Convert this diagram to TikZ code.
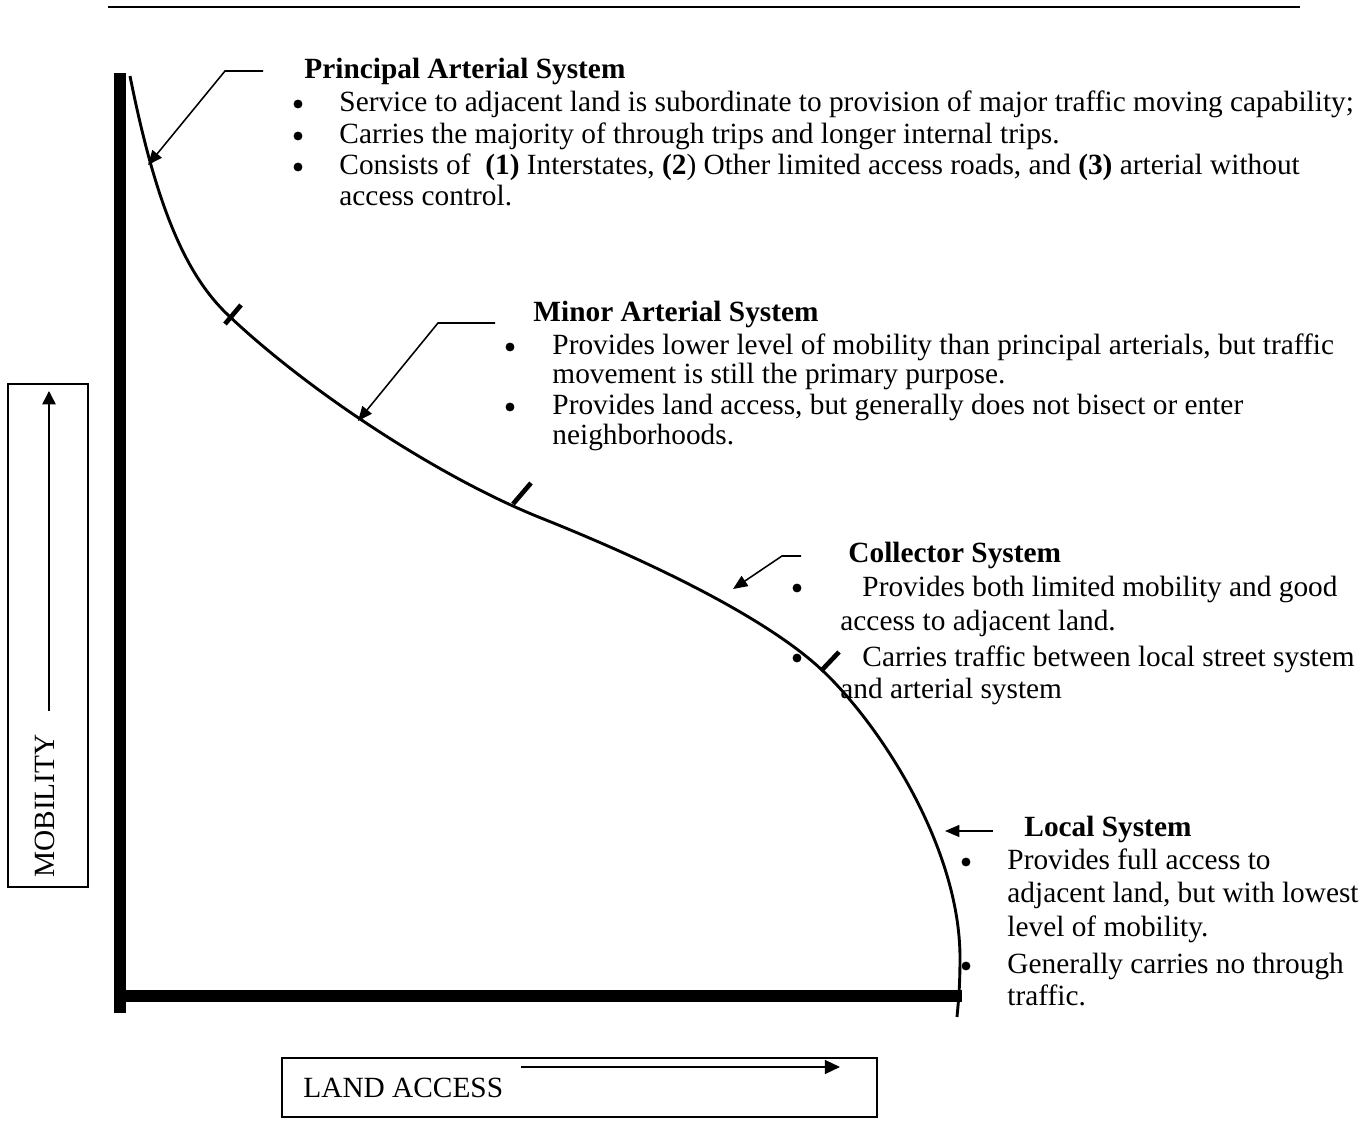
\documentclass[tikz,border=0pt]{standalone}
\usepackage{fontspec}
\setmainfont{Liberation Serif}
\usetikzlibrary{arrows.meta}

\tikzset{
  txt/.style={anchor=base west},
  bul/.style={circle,fill,minimum size=4pt},
  axis/.style={line width=5.4pt},
  roadcurve/.style={line width=1.3pt},
  notch/.style={line width=2.1pt},
  pointer/.style={line width=0.7pt,-{Triangle[length=6.5pt,width=5.4pt]}},
  frame/.style={line width=0.8pt}
}

\begin{document}
\begin{tikzpicture}[x=0.45pt,y=-0.45pt,
    every node/.style={inner sep=0pt,font=\fontsize{13.2}{15}\selectfont}]
   \useasboundingbox (0,0) rectangle (1368,1134);

   % rule over the figure
   \draw[line width=0.9pt] (108,7) -- (1300,7);

   % axes
   \draw[axis] (120,73) -- (120,1013);
   \draw[axis] (114,996) -- (962,996);

   % mobility / access curve
   \draw[roadcurve] (130,76)
     .. controls (155.5,203.4) and (184.5,273.7) .. (228,315)
     .. controls (307.8,390.8) and (438.9,477.2) .. (541,518)
     .. controls (643.1,558.8) and (765,615.9) .. (823,671)
     .. controls (881,726.1) and (960,848) .. (960,958)
     .. controls (960,990) and (958,1005) .. (957,1017);

   % class boundaries on the curve
   \foreach \a/\b/\c/\d in {225/324/241/305, 513/504/531/483, 821/671/839/652}
     \draw[notch] (\a,\b) -- (\c,\d);

   % principal arterial
   \node[txt] (pa) at (304,78) {\bfseries Principal Arterial System};
   \foreach \n/\y in {pa-d1/104, pa-d2/136, pa-d3/167}
     \node[bul] (\n) at (298,\y) {};
   \foreach \n/\y/\t in
     { pa1/111/{Service to adjacent land is subordinate to provision of major traffic moving capability;},
       pa2/143/{Carries the majority of through trips and longer internal trips.},
       pa3/174/{Consists of~ \textbf{(1)} Interstates, \textbf{(2}) Other limited access roads, and \textbf{(3)} arterial without},
       pa4/205/{access control.}
     }
     \node[txt] (\n) at (339,\y) {\t};
   \coordinate (pa-start) at (263,71);
   \coordinate (pa-bend) at (225,71);
   \coordinate (pa-tip) at (148,165);
   \draw[pointer] (pa-start) -- (pa-bend) -- (pa-tip);

   % minor arterial
   \node[txt] (ma) at (533,321) {\bfseries Minor Arterial System};
   \foreach \n/\y in {ma-d1/347, ma-d2/407}
     \node[bul] (\n) at (510,\y) {};
   \foreach \n/\y/\t in
     { ma1/354/{Provides lower level of mobility than principal arterials, but traffic},
       ma2/383/{movement is still the primary purpose.},
       ma3/414/{Provides land access, but generally does not bisect or enter},
       ma4/444/{neighborhoods.}
     }
     \node[txt] (\n) at (552,\y) {\t};
   \coordinate (ma-start) at (495,323);
   \coordinate (ma-bend) at (438,323);
   \coordinate (ma-tip) at (358,421);
   \draw[pointer] (ma-start) -- (ma-bend) -- (ma-tip);

   % collector
   \node[txt] (co) at (848,562) {\bfseries Collector System};
   \foreach \n/\y in {co-d1/588, co-d2/658}
     \node[bul] (\n) at (797,\y) {};
   \foreach \n/\x/\y/\t in
     { co1/862/596/{Provides both limited mobility and good},
       co2/840/630/{access to adjacent land.},
       co3/862/666/{Carries traffic between local street system},
       co4/840/698/{and arterial system}
     }
     \node[txt] (\n) at (\x,\y) {\t};
   \coordinate (co-start) at (801,556);
   \coordinate (co-bend) at (782,556);
   \coordinate (co-tip) at (733,589);
   \draw[pointer] (co-start) -- (co-bend) -- (co-tip);

   % local
   \node[txt] (lo) at (1024,836) {\bfseries Local System};
   \foreach \n/\y in {lo-d1/862, lo-d2/966}
     \node[bul] (\n) at (966,\y) {};
   \foreach \n/\y/\t in
     { lo1/869/{Provides full access to},
       lo2/902/{adjacent land, but with lowest},
       lo3/936/{level of mobility.},
       lo4/973/{Generally carries no through},
       lo5/1005/{traffic.}
     }
     \node[txt] (\n) at (1007,\y) {\t};
   \coordinate (lo-start) at (993,831);
   \coordinate (lo-tip) at (945,831);
   \draw[pointer] (lo-start) -- (lo-tip);

   % axis captions
   \draw[frame] (8,384) rectangle (88,887);
   \node[rotate=90] (mob) at (45,806) {MOBILITY};
   \coordinate (mob-tail) at (49,711);
   \coordinate (mob-head) at (49,391);
   \draw[pointer,-{Triangle[length=6pt,width=6pt]}] (mob-tail) -- (mob-head);

   \draw[frame] (282,1058) rectangle (877,1117);
   \node[txt] (acc) at (303,1097) {LAND ACCESS};
   \coordinate (acc-tail) at (521,1067);
   \coordinate (acc-head) at (840,1067);
   \draw[pointer,-{Triangle[length=6.8pt,width=6.3pt]}] (acc-tail) -- (acc-head);
\end{tikzpicture}
\end{document}
